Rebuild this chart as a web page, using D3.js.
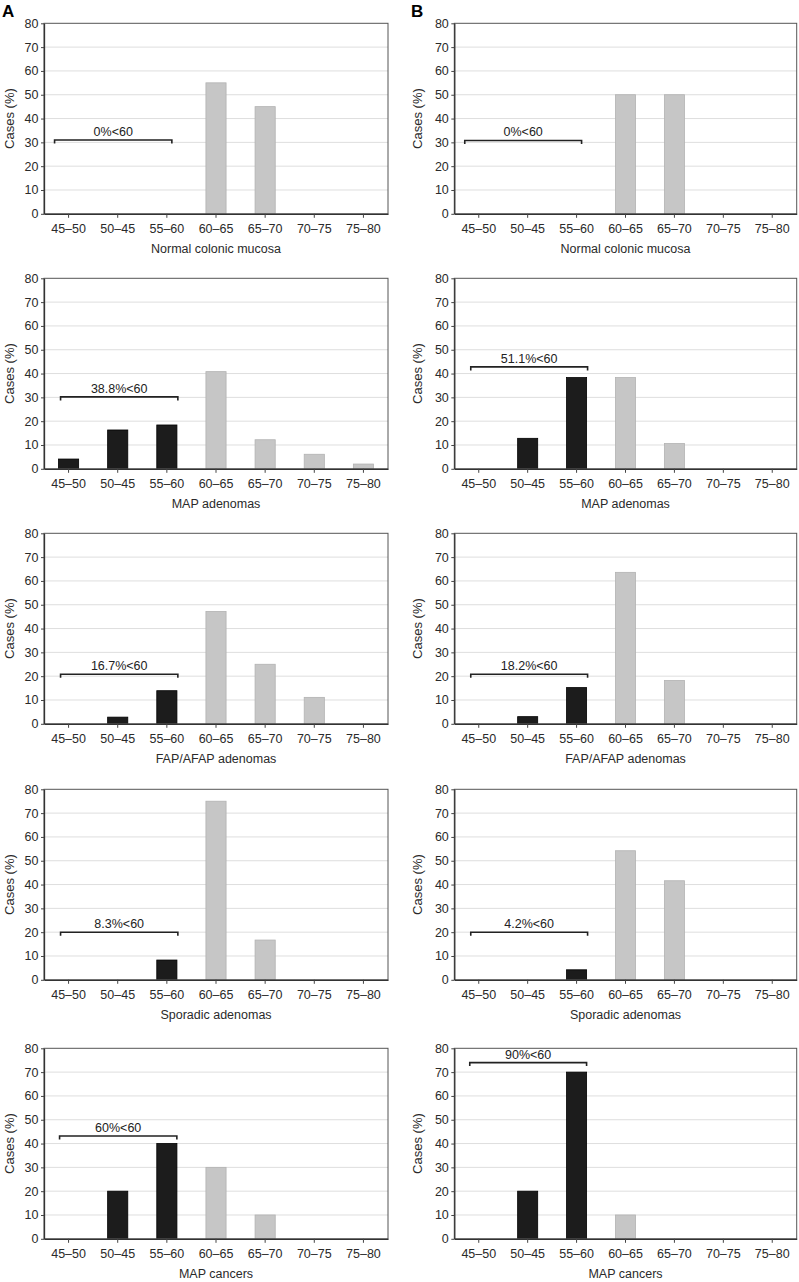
<!DOCTYPE html>
<html>
<head>
<meta charset="utf-8">
<script src="https://cdn.jsdelivr.net/npm/d3@7"></script>
<style>
  html, body { margin: 0; padding: 0; background: #fff; }
  svg { display: block; }
  text { font-family: "Liberation Sans", Arial, Helvetica, sans-serif; }
</style>
</head>
<body>
<svg id="chart" width="799" height="1282"></svg>
<script>
// ---- Data ----
const categories = ["45\u201350", "50\u201345", "55\u201360", "60\u201365", "65\u201370", "70\u201375", "75\u201380"];
const yTicks = [0, 10, 20, 30, 40, 50, 60, 70, 80];
const panelTitles = ["Normal colonic mucosa", "MAP adenomas", "FAP/AFAP adenomas", "Sporadic adenomas", "MAP cancers"];

// Column A values (% cases per age group)
const normalMucosaA = [0, 0, 0, 55, 45, 0, 0];
const mapAdenomasA  = [4.1, 16.3, 18.4, 40.8, 12.2, 6.1, 2.0];
const fapAdenomasA  = [0, 2.8, 13.9, 47.2, 25.0, 11.1, 0];
const sporadicA     = [0, 0, 8.3, 75.0, 16.7, 0, 0];
const mapCancersA   = [0, 20, 40, 30, 10, 0, 0];

// Column B values
const normalMucosaB = [0, 0, 0, 50, 50, 0, 0];
const mapAdenomasB  = [0, 12.8, 38.3, 38.3, 10.6, 0, 0];
const fapAdenomasB  = [0, 3.0, 15.2, 63.6, 18.2, 0, 0];
const sporadicB     = [0, 0, 4.2, 54.2, 41.6, 0, 0];
const mapCancersB   = [0, 20, 70, 10, 0, 0, 0];

// Bracket labels and their heights (value on y axis)
const bracketLabelsA = ["0%<60", "38.8%<60", "16.7%<60", "8.3%<60", "60%<60"];
const bracketLabelsB = ["0%<60", "51.1%<60", "18.2%<60", "4.2%<60", "90%<60"];
const bracketLevelsA = [31, 30.2, 20.8, 20, 43.2];
const bracketLevelsB = [30.8, 42.8, 20.8, 20, 74];

const seriesA = [normalMucosaA, mapAdenomasA, fapAdenomasA, sporadicA, mapCancersA];
const seriesB = [normalMucosaB, mapAdenomasB, fapAdenomasB, sporadicB, mapCancersB];

// ---- Layout ----
const svg = d3.select("#chart");
const rowTops = [23.3, 278.3, 533.3, 789.3, 1048.3];
const plotH = 190.5;
const FS = 12.5;
const cols = [
  { letter: "A", x0: 44, x1: 388, series: seriesA, labels: bracketLabelsA, levels: bracketLevelsA, titleX: 9, letterX: 2 },
  { letter: "B", x0: 454.3, x1: 796.7, series: seriesB, labels: bracketLabelsB, levels: bracketLevelsB, titleX: 417, letterX: 411 }
];
const bracketShift = [[-14, 5], [-8, 11], [-8, 11], [-8, 11], [-9, 10]];

const blackFill = "#1c1c1c", greyFill = "#c6c6c6";

cols.forEach(col => {
  svg.append("text")
    .attr("x", col.letterX).attr("y", 17)
    .attr("font-size", 17).attr("font-weight", "bold").attr("fill", "#000")
    .text(col.letter);

  col.series.forEach((vals, r) => {
    const top = rowTops[r], bottom = top + plotH;
    const x = d3.scaleBand().domain(categories).range([col.x0, col.x1]).paddingInner(0.59).paddingOuter(0.295);
    const y = d3.scaleLinear().domain([0, 80]).range([bottom, top]);
    const g = svg.append("g");

    // gridlines
    g.selectAll("line.grid").data(yTicks.filter(t => t > 0 && t < 80)).enter().append("line")
      .attr("x1", col.x0).attr("x2", col.x1)
      .attr("y1", d => y(d)).attr("y2", d => y(d))
      .attr("stroke", "#dedede").attr("stroke-width", 1);

    // bars
    g.selectAll("rect.bar").data(vals.map((v, i) => ({ v, i }))).enter()
      .filter(d => d.v > 0)
      .append("rect")
      .attr("x", d => x(categories[d.i]))
      .attr("width", x.bandwidth())
      .attr("y", d => y(d.v))
      .attr("height", d => bottom - y(d.v))
      .attr("fill", d => d.i < 3 ? blackFill : greyFill)
      .attr("stroke", d => d.i < 3 ? "#000" : "#b2b2b2")
      .attr("stroke-width", 0.8);

    // frame
    g.append("rect")
      .attr("x", col.x0).attr("y", top)
      .attr("width", col.x1 - col.x0).attr("height", plotH)
      .attr("fill", "none").attr("stroke", "#555").attr("stroke-width", 1);

    // axes
    const xAxis = d3.axisBottom(x).tickSize(4).tickSizeOuter(0);
    const gx = g.append("g").attr("transform", `translate(0,${bottom})`).call(xAxis);
    gx.select(".domain").attr("stroke", "#333").attr("stroke-width", 1.3);
    gx.selectAll(".tick line").attr("stroke", "#444");
    gx.selectAll(".tick text").attr("font-size", FS).attr("fill", "#2a2a2a").attr("dy", "0.95em")
      .attr("font-family", "'Liberation Sans', Arial, sans-serif");

    const yAxis = d3.axisLeft(y).tickValues(yTicks).tickSize(3).tickSizeOuter(0);
    const gy = g.append("g").attr("transform", `translate(${col.x0},0)`).call(yAxis);
    gy.select(".domain").attr("stroke", "#333").attr("stroke-width", 1.3);
    gy.selectAll(".tick line").attr("stroke", "#444");
    gy.selectAll(".tick text").attr("font-size", FS).attr("fill", "#2a2a2a").attr("x", -5.5)
      .attr("font-family", "'Liberation Sans', Arial, sans-serif");

    // y title
    g.append("text")
      .attr("transform", `translate(${col.titleX + 4.5},${(top + bottom) / 2}) rotate(-90)`)
      .attr("text-anchor", "middle").attr("font-size", 13).attr("fill", "#2a2a2a")
      .text("Cases (%)");

    // x title
    g.append("text")
      .attr("x", (col.x0 + col.x1) / 2).attr("y", bottom + 39)
      .attr("text-anchor", "middle").attr("font-size", FS).attr("fill", "#2a2a2a")
      .text(panelTitles[r]);

    // bracket
    const c0 = x(categories[0]) + x.bandwidth() / 2;
    const c2 = x(categories[2]) + x.bandwidth() / 2;
    const bx0 = c0 + bracketShift[r][0], bx1 = c2 + bracketShift[r][1];
    const by = y(col.levels[r]);
    g.append("path")
      .attr("d", `M${bx0},${by + 3.5}V${by}H${bx1}V${by + 3.5}`)
      .attr("fill", "none").attr("stroke", "#222").attr("stroke-width", 1.6);
    g.append("text")
      .attr("x", (bx0 + bx1) / 2).attr("y", by - 4)
      .attr("text-anchor", "middle").attr("font-size", FS).attr("fill", "#222")
      .text(col.labels[r]);
  });
});
</script>
</body>
</html>
